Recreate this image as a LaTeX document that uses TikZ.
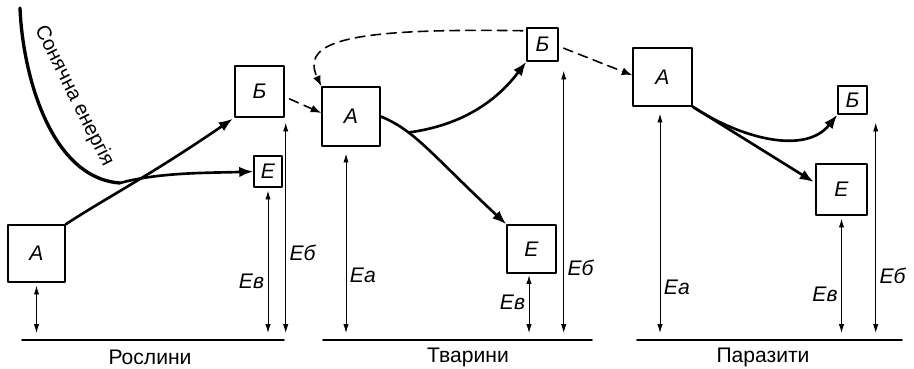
\documentclass[tikz,border=0pt]{standalone}
\usepackage{fontspec}
\setmainfont{Liberation Sans}
\usetikzlibrary{arrows.meta,calc,positioning}

\begin{document}
\begin{tikzpicture}[>=Stealth,line cap=round,line join=round,
  box/.style={draw,line width=0.8pt,inner sep=0pt,font=\itshape\fontsize{12}{14}\selectfont},
  flow/.style={line width=1.5pt,-{Latex[length=8pt,width=6pt]}},
  dim/.style={line width=0.5pt,{Latex[length=5pt,width=3pt]}-{Latex[length=5pt,width=3pt]}},
  feed/.style={line width=0.9pt,dash pattern=on 5.5pt off 3.5pt,-{Latex[length=6pt,width=4.5pt]}},
  ground/.style={line width=1pt},
  lbl/.style={font=\itshape\fontsize{12}{14}\selectfont,inner sep=2pt},
  grouplbl/.style={font=\fontsize{12}{14}\selectfont}]
 \useasboundingbox (0,0) rectangle (18.28,7.36);
 \coordinate (g) at (0,0.70);

 \node[box,minimum width=1.14cm,minimum height=1.14cm] (A1) at (0.73,2.29) {А};
 \node[box,minimum width=0.98cm,minimum height=1.02cm] (B1) at (5.19,5.53) {Б};
 \node[box,minimum width=0.56cm,minimum height=0.62cm] (E1) at (5.36,3.93) {Е};
 \coordinate (s1) at (2.40,3.70);
 \draw[line width=1.9pt] (0.40,7.20) .. controls (0.45,5.9) and (1.0,3.8) .. (s1);
 \node[font=\fontsize{11.5}{13}\selectfont,rotate=-63.5] (sun) at (1.48,5.43) {Сонячна енергія};
 \draw[flow,shorten >=1pt] (A1.north east) .. controls (2.2,3.45) and (3.0,3.85) .. (B1.south west);
 \draw[flow] (s1) .. controls (3.2,3.92) and (4.2,3.90) .. (E1.west);
 \draw[dim] ([yshift=-0.06cm]A1.south) -- (A1.south |- g);
 \draw[dim] ([yshift=-0.06cm]E1.south) -- (E1.south |- g) node[lbl,pos=.64,left] {Ев};
 \draw[dim] ([xshift=0.02cm,yshift=-0.1cm]B1.south east) -- ([xshift=0.02cm]B1.south east |- g)
  node[lbl,pos=.62,right] {Еб};
 \draw[ground] (0.44,0.56) -- (5.68,0.56);
 \node[grouplbl] (p1) at (3.0,0.22) {Рослини};

 \node[box,minimum width=1.16cm,minimum height=1.18cm] (A2) at (7.02,5.03) {А};
 \node[box,minimum width=0.62cm,minimum height=0.66cm] (B2) at (10.85,6.47) {Б};
 \node[box,minimum width=0.98cm,minimum height=0.96cm] (E2) at (10.63,2.38) {Е};
 \coordinate (s2) at (8.17,4.71);
 \draw[flow] (A2.east) .. controls (8.3,4.75) and (8.6,4.3) .. (E2.north west);
 \draw[flow] (s2) .. controls (9.2,4.85) and (9.9,5.3) .. (B2.south west);
 \draw[feed,shorten <=3pt] ([yshift=-3pt]B1.east) -- ([yshift=2pt]A2.west);
 \draw[feed,shorten <=2pt] ([yshift=-2pt]B2.north west) .. controls (7.0,6.80) and (6.0,6.55) .. (A2.north west);
 \draw[dim] ([xshift=-0.1cm,yshift=-0.14cm]A2.south) -- ([xshift=-0.1cm]A2.south |- g)
  node[lbl,pos=.68,right] {Еа};
 \draw[dim] ([xshift=-0.05cm,yshift=-0.03cm]E2.south) -- ([xshift=-0.05cm]E2.south |- g)
  node[lbl,pos=.47,left] {Ев};
 \draw[dim] ([xshift=0.1cm,yshift=-0.18cm]B2.south east) -- ([xshift=0.1cm]B2.south east |- g)
  node[lbl,pos=.75,right] {Еб};
 \draw[ground] (6.46,0.56) -- (11.84,0.56);
 \node[grouplbl] (p2) at (9.36,0.22) {Тварини};

 \node[box,minimum width=1.18cm,minimum height=1.16cm] (A3) at (13.25,5.82) {А};
 \node[box,minimum width=0.58cm,minimum height=0.56cm] (B3) at (17.05,5.36) {Б};
 \node[box,minimum width=1.02cm,minimum height=1.02cm] (E3) at (16.83,3.57) {Е};
 \draw[feed,shorten <=3pt] ([yshift=-1pt]B2.east) -- ([yshift=1pt]A3.west);
 \draw[flow,shorten >=1pt] (A3.south east) -- ([yshift=0.13cm]E3.west);
 \draw[flow] (A3.south east) .. controls (14.8,4.6) and (16.1,4.25) .. (B3.south west);
 \draw[dim] ([xshift=-0.05cm,yshift=-0.14cm]A3.south) -- ([xshift=-0.05cm]A3.south |- g)
  node[lbl,pos=.79,right] {Еа};
 \draw[dim] ([yshift=-0.06cm]E3.south) -- (E3.south |- g) node[lbl,pos=.66,left] {Ев};
 \draw[dim] ([xshift=0.16cm,yshift=-0.16cm]B3.south east) -- ([xshift=0.16cm]B3.south east |- g)
  node[lbl,pos=.73,right] {Еб};
 \draw[ground] (12.74,0.56) -- (18.04,0.56);
 \node[grouplbl] (p3) at (15.26,0.22) {Паразити};
\end{tikzpicture}
\end{document}
